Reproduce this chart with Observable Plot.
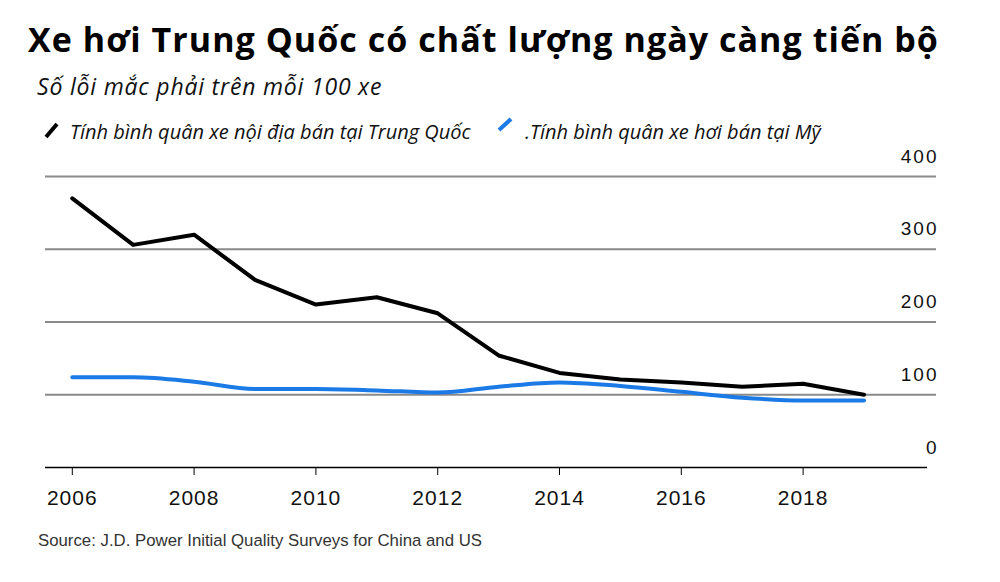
<!DOCTYPE html>
<html><head><meta charset="utf-8">
<script src="https://cdn.jsdelivr.net/npm/d3@7"></script>
<script src="https://cdn.jsdelivr.net/npm/@observablehq/plot@0.6"></script>
<style>
body{margin:0;background:#fff;width:1000px;height:582px;position:relative;overflow:hidden}
.t{position:absolute;white-space:nowrap;line-height:1}
#title{left:28px;top:16px;font:700 34px "Open Sans","Noto Sans",sans-serif;letter-spacing:1.05px;color:#000}
#subtitle{left:37px;top:70px;font:italic 400 23px "Open Sans","Noto Sans",sans-serif;letter-spacing:0.8px;color:#111}
.leg{top:118px;font:italic 400 20px "Open Sans","Noto Sans",sans-serif;color:#111}
#source{left:38px;top:531px;font:400 16.8px "Liberation Sans",Arial,sans-serif;color:#333}
#sw{position:absolute;left:0;top:0}
#chart{position:absolute;left:0;top:140px}
g[aria-label="x-axis tick label"] text{letter-spacing:1px}
g[aria-label="text"] text{letter-spacing:2px}
</style></head><body>
<div id="title" class="t"></div>
<div id="subtitle" class="t"></div>
<svg id="sw" width="1000" height="150"></svg>
<div id="leg1" class="t leg" style="left:70px"></div>
<div id="leg2" class="t leg" style="left:525px"></div>
<div id="chart"></div>
<div id="source" class="t"></div>
<script>
const titleText = "Xe hơi Trung Quốc có chất lượng ngày càng tiến bộ";
const subtitleText = "Số lỗi mắc phải trên mỗi 100 xe";
const seriesNames = ["Tính bình quân xe nội địa bán tại Trung Quốc", ".Tính bình quân xe hơi bán tại Mỹ"];
const seriesColors = ["#000000", "#1b7ae6"];
const sourceText = "Source: J.D. Power Initial Quality Surveys for China and US";

const years = [2006, 2007, 2008, 2009, 2010, 2011, 2012, 2013, 2014, 2015, 2016, 2017, 2018, 2019];
const china = [370, 306, 320, 258, 224, 234, 212, 154, 130, 121, 117, 111, 115, 100];
const us    = [124, 124, 118, 108, 108, 106, 103, 111, 117, 112, 104, 96, 92, 92];
const xTicks = [2006, 2008, 2010, 2012, 2014, 2016, 2018];
const yTicks = [0, 100, 200, 300, 400];
const gridVals = [100, 200, 300, 400];

document.getElementById("title").textContent = titleText;
document.getElementById("subtitle").textContent = subtitleText;
document.getElementById("leg1").textContent = seriesNames[0];
document.getElementById("leg2").textContent = seriesNames[1];
document.getElementById("source").textContent = sourceText;

// legend swatches
const sw = d3.select("#sw");
sw.append("line").attr("x1",46).attr("y1",137).attr("x2",57).attr("y2",124)
  .attr("stroke",seriesColors[0]).attr("stroke-width",4);
sw.append("line").attr("x1",499).attr("y1",130).attr("x2",511).attr("y2",119)
  .attr("stroke",seriesColors[1]).attr("stroke-width",4);

const chinaRows = years.map((y,i)=>({year:y, value:china[i]}));
const usRows = years.map((y,i)=>({year:y, value:us[i]}));

const plot = Plot.plot({
  width: 1000,
  height: 372,
  marginTop: 36,
  marginBottom: 45,
  marginLeft: 45,
  marginRight: 64,
  style: {fontFamily: '"Liberation Sans", Arial, sans-serif', color: "#111", background: "transparent"},
  x: {domain: [2005.56, 2020.19], label: null},
  y: {domain: [0, 400], axis: null, label: null},
  marks: [
    Plot.ruleY(gridVals, {stroke: "#8a8a8a", strokeWidth: 2}),
    Plot.ruleY([0], {stroke: "#000", strokeWidth: 1.5, insetRight: 9}),
    Plot.axisX({ticks: xTicks, tickFormat: d => String(d), tickSize: 8, tickPadding: 15, fontSize: 21, stroke: "#000", label: null}),
    Plot.text(yTicks, {y: d => d, text: d => String(d), frameAnchor: "right", textAnchor: "end", dy: -20, dx: 2, fontSize: 19, fill: "#111"}),
    Plot.line(usRows, {x: "year", y: "value", stroke: seriesColors[1], strokeWidth: 4, curve: "monotone-x"}),
    Plot.line(chinaRows, {x: "year", y: "value", stroke: seriesColors[0], strokeWidth: 4})
  ]
});
document.getElementById("chart").appendChild(plot);
</script>
</body></html>
